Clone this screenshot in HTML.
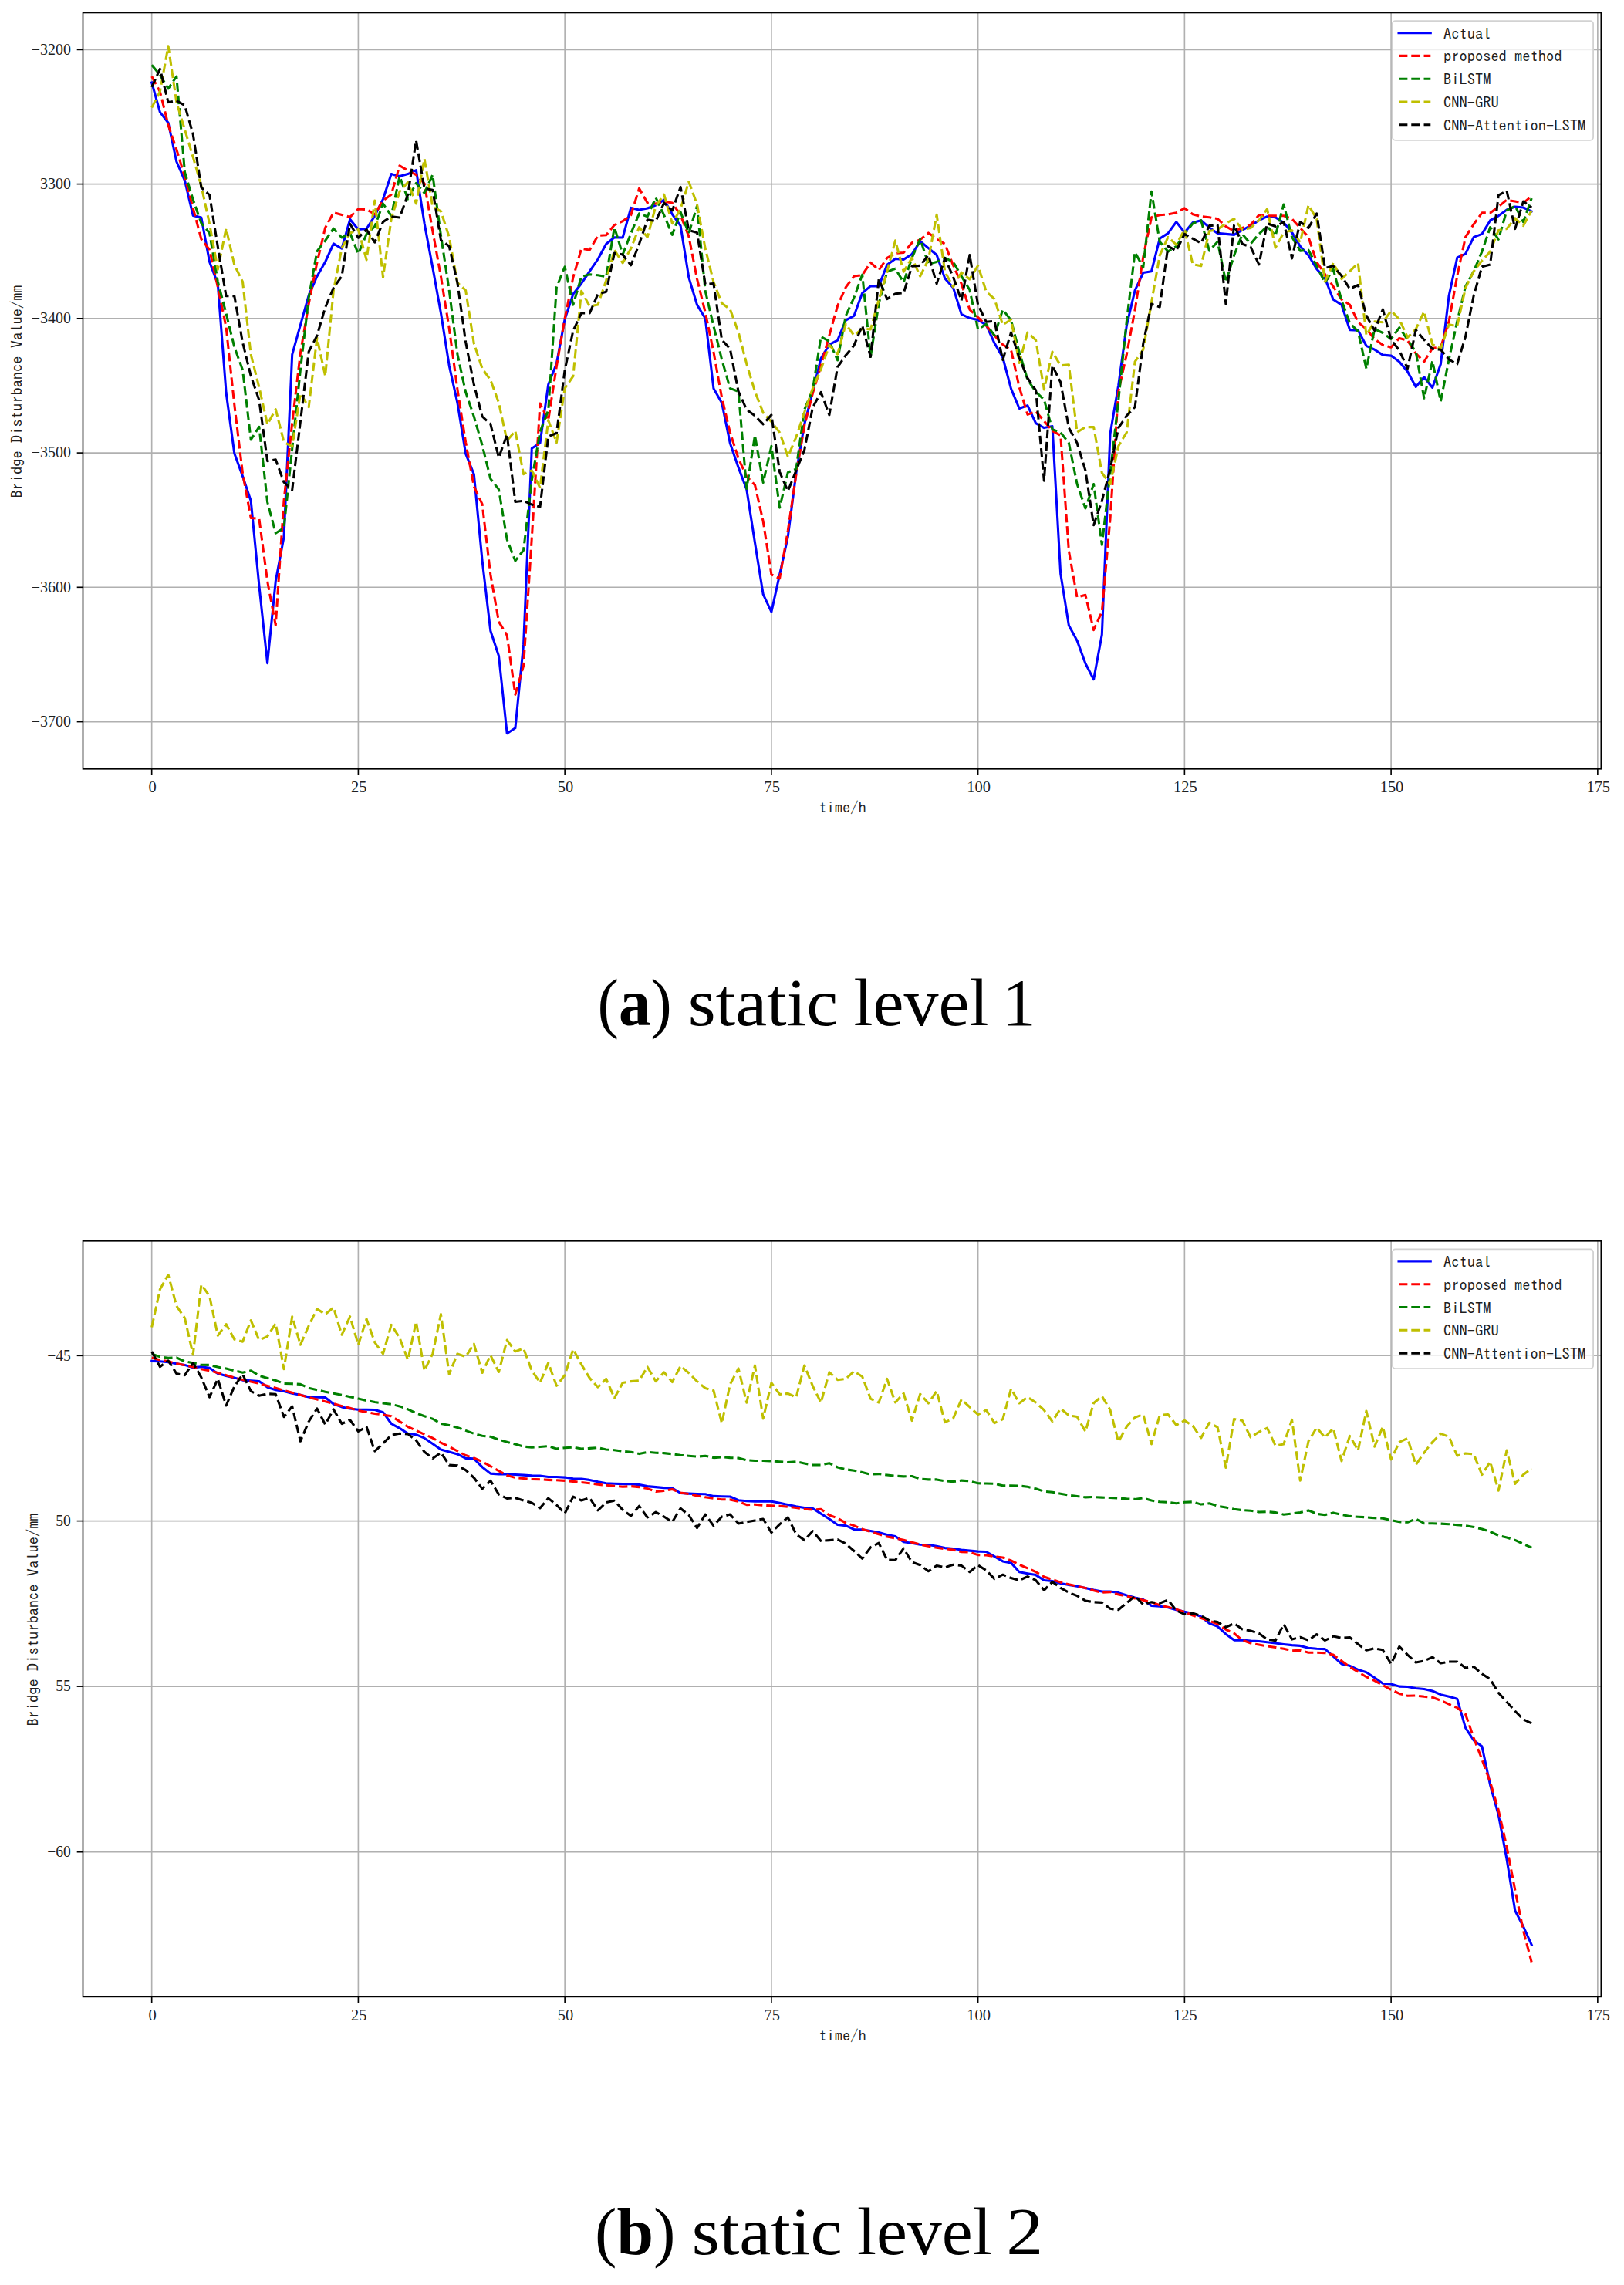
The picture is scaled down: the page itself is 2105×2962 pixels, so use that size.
<!DOCTYPE html>
<html><head><meta charset="utf-8"><title>Bridge Disturbance prediction</title>
<style>
html,body{margin:0;padding:0;background:#fff}
svg{display:block}
.t{font-family:"IPAGothic", "Liberation Mono", monospace;font-size:20.46px;fill:#1f1f1f}
.n{font-family:"Liberation Serif", serif;font-size:20.46px;fill:#1f1f1f}
.cap{font-family:"Liberation Serif", serif;fill:#000}
.ln{fill:none;stroke-width:3.07;stroke-linejoin:round}
.d{stroke-dasharray:11.36 4.91;stroke-linecap:butt}
.s{stroke-linecap:square}
.g{stroke:#b0b0b0;stroke-width:1.64}
.k{stroke:#000;stroke-width:1.64}
</style></head><body>
<svg width="2105" height="2962" viewBox="0 0 2105 2962">
<rect width="2105" height="2962" fill="#fff"/>

<g id="chart1">
<line class="g" x1="196.67" x2="196.67" y1="16.5" y2="996.8"/>
<line class="g" x1="464.41" x2="464.41" y1="16.5" y2="996.8"/>
<line class="g" x1="732.15" x2="732.15" y1="16.5" y2="996.8"/>
<line class="g" x1="999.89" x2="999.89" y1="16.5" y2="996.8"/>
<line class="g" x1="1267.63" x2="1267.63" y1="16.5" y2="996.8"/>
<line class="g" x1="1535.37" x2="1535.37" y1="16.5" y2="996.8"/>
<line class="g" x1="1803.11" x2="1803.11" y1="16.5" y2="996.8"/>
<line class="g" x1="2070.85" x2="2070.85" y1="16.5" y2="996.8"/>
<line class="g" x1="107.5" x2="2075.3" y1="64.4" y2="64.4"/>
<line class="g" x1="107.5" x2="2075.3" y1="238.6" y2="238.6"/>
<line class="g" x1="107.5" x2="2075.3" y1="412.8" y2="412.8"/>
<line class="g" x1="107.5" x2="2075.3" y1="587.1" y2="587.1"/>
<line class="g" x1="107.5" x2="2075.3" y1="761.3" y2="761.3"/>
<line class="g" x1="107.5" x2="2075.3" y1="935.6" y2="935.6"/>
<clipPath id="clip0"><rect x="107.5" y="16.5" width="1967.8000000000002" height="980.3"/></clipPath>
<g clip-path="url(#clip0)">
<polyline class="ln s" stroke="#0000ff" points="196.7,107.0 207.4,145.4 218.1,159.2 228.8,209.5 239.5,234.1 250.2,279.4 260.9,282.0 271.6,339.5 282.3,368.1 293.1,509.0 303.8,587.8 314.5,617.3 325.2,649.3 335.9,759.2 346.6,859.7 357.3,753.3 368.0,696.2 378.7,459.7 389.4,421.3 400.2,382.9 410.9,358.2 421.6,339.5 432.3,315.9 443.0,322.2 453.7,284.3 464.4,297.5 475.1,296.5 485.8,279.8 496.5,258.1 507.2,225.6 518.0,228.5 528.7,225.6 539.4,220.6 550.1,289.6 560.8,346.7 571.5,405.9 582.2,473.8 592.9,522.1 603.6,588.1 614.3,614.7 625.1,727.0 635.8,817.7 646.5,850.2 657.2,950.7 667.9,943.8 678.6,835.4 689.3,581.2 700.0,574.3 710.7,498.5 721.4,471.3 732.1,413.8 742.9,381.3 753.6,367.5 764.3,351.7 775.0,336.0 785.7,316.3 796.4,307.8 807.1,308.0 817.8,269.4 828.5,271.9 839.2,270.0 850.0,266.0 860.7,259.1 871.4,277.8 882.1,292.6 892.8,359.6 903.5,395.1 914.2,412.8 924.9,503.4 935.6,522.2 946.3,574.4 957.1,605.9 967.8,634.5 978.5,703.4 989.2,770.4 999.9,793.1 1010.6,744.8 1021.3,695.6 1032.0,612.8 1042.7,549.8 1053.4,507.8 1064.1,464.5 1074.9,446.7 1085.6,441.2 1096.3,415.2 1107.0,409.3 1117.7,379.8 1128.4,370.9 1139.1,370.9 1149.8,343.3 1160.5,335.4 1171.2,336.4 1182.0,329.5 1192.7,312.8 1203.4,321.6 1214.1,330.5 1224.8,361.0 1235.5,372.9 1246.2,407.3 1256.9,412.3 1267.6,414.8 1278.3,421.1 1289.0,444.8 1299.8,463.5 1310.5,503.9 1321.2,529.5 1331.9,525.6 1342.6,548.7 1353.3,554.6 1364.0,552.6 1374.7,743.7 1385.4,810.7 1396.1,830.4 1406.9,860.0 1417.6,880.7 1428.3,822.6 1439.0,562.5 1449.7,499.4 1460.4,421.6 1471.1,376.3 1481.8,353.6 1492.5,351.7 1503.2,309.3 1514.0,302.4 1524.7,287.6 1535.4,301.4 1546.1,288.6 1556.8,285.7 1567.5,294.9 1578.2,302.4 1588.9,303.4 1599.6,304.4 1610.3,298.1 1621.0,292.6 1631.8,285.7 1642.5,280.7 1653.2,281.7 1663.9,288.6 1674.6,301.4 1685.3,319.2 1696.0,331.0 1706.7,348.8 1717.4,360.6 1728.1,388.2 1738.9,395.1 1749.6,427.6 1760.3,428.2 1771.0,448.3 1781.7,453.2 1792.4,460.1 1803.1,461.1 1813.8,469.0 1824.5,481.8 1835.2,501.5 1845.9,488.7 1856.7,502.5 1867.4,471.9 1878.1,383.3 1888.8,334.0 1899.5,329.1 1910.2,307.4 1920.9,303.4 1931.6,285.7 1942.3,279.8 1953.0,271.9 1963.8,268.0 1974.5,269.0 1985.2,273.9"/>
<polyline class="ln d" stroke="#ff0000" points="196.7,99.1 207.4,118.8 218.1,162.2 228.8,193.7 239.5,229.2 250.2,269.6 260.9,310.0 271.6,323.7 282.3,372.0 293.1,424.2 303.8,524.7 314.5,613.4 325.2,671.5 335.9,672.5 346.6,753.3 357.3,810.4 368.0,648.9 378.7,548.4 389.4,457.7 400.2,393.7 410.9,340.5 421.6,295.2 432.3,275.5 443.0,278.4 453.7,281.4 464.4,270.9 475.1,271.5 485.8,277.8 496.5,260.0 507.2,252.2 518.0,214.7 528.7,221.0 539.4,226.6 550.1,238.0 560.8,299.5 571.5,358.6 582.2,425.6 592.9,504.4 603.6,573.3 614.3,630.5 625.1,653.7 635.8,744.8 646.5,805.9 657.2,823.6 667.9,900.4 678.6,863.0 689.3,697.5 700.0,523.1 710.7,544.8 721.4,474.8 732.1,412.8 742.9,359.6 753.6,322.2 764.3,324.1 775.0,305.4 785.7,304.8 796.4,291.6 807.1,286.7 817.8,278.8 828.5,244.3 839.2,263.1 850.0,264.0 860.7,261.1 871.4,263.1 882.1,278.8 892.8,306.4 903.5,361.6 914.2,404.9 924.9,456.2 935.6,515.3 946.3,560.6 957.1,594.1 967.8,617.7 978.5,628.6 989.2,675.9 999.9,744.8 1010.6,749.8 1021.3,687.7 1032.0,614.8 1042.7,551.7 1053.4,509.8 1064.1,474.3 1074.9,434.9 1085.6,396.5 1096.3,372.3 1107.0,358.1 1117.7,356.5 1128.4,340.3 1139.1,350.2 1149.8,334.4 1160.5,328.5 1171.2,327.5 1182.0,314.7 1192.7,310.8 1203.4,301.9 1214.1,309.8 1224.8,316.3 1235.5,343.9 1246.2,367.9 1256.9,401.4 1267.6,411.3 1278.3,422.1 1289.0,434.9 1299.8,446.7 1310.5,453.6 1321.2,501.9 1331.9,537.4 1342.6,533.4 1353.3,545.7 1364.0,558.5 1374.7,564.4 1385.4,714.2 1396.1,774.3 1406.9,771.3 1417.6,816.7 1428.3,793.0 1439.0,672.8 1449.7,507.3 1460.4,459.1 1471.1,401.9 1481.8,333.0 1492.5,281.7 1503.2,278.8 1514.0,277.8 1524.7,275.8 1535.4,269.9 1546.1,277.8 1556.8,280.7 1567.5,281.7 1578.2,283.7 1588.9,293.5 1599.6,299.5 1610.3,295.5 1621.0,291.6 1631.8,278.8 1642.5,279.8 1653.2,279.8 1663.9,279.8 1674.6,283.7 1685.3,295.5 1696.0,307.3 1706.7,339.9 1717.4,355.3 1728.1,371.4 1738.9,388.2 1749.6,395.1 1760.3,417.7 1771.0,426.6 1781.7,439.4 1792.4,447.3 1803.1,450.2 1813.8,438.4 1824.5,441.4 1835.2,458.1 1845.9,469.0 1856.7,451.2 1867.4,450.2 1878.1,416.7 1888.8,357.6 1899.5,307.4 1910.2,290.6 1920.9,275.9 1931.6,275.9 1942.3,268.0 1953.0,259.1 1963.8,261.1 1974.5,263.1 1985.2,254.2"/>
<polyline class="ln d" stroke="#008000" points="196.7,84.3 207.4,97.1 218.1,114.9 228.8,99.1 239.5,223.3 250.2,258.7 260.9,289.3 271.6,302.1 282.3,365.1 293.1,406.5 303.8,449.9 314.5,479.4 325.2,570.0 335.9,553.3 346.6,650.8 357.3,691.2 368.0,684.3 378.7,581.9 389.4,479.4 400.2,385.8 410.9,325.7 421.6,311.9 432.3,296.2 443.0,308.0 453.7,302.1 464.4,329.0 475.1,303.4 485.8,293.5 496.5,264.0 507.2,279.8 518.0,228.5 528.7,258.1 539.4,237.4 550.1,250.2 560.8,226.6 571.5,305.4 582.2,376.3 592.9,459.1 603.6,508.3 614.3,539.9 625.1,577.3 635.8,620.6 646.5,634.4 657.2,699.5 667.9,727.0 678.6,713.3 689.3,622.6 700.0,559.6 710.7,532.0 721.4,372.4 732.1,345.8 742.9,395.1 753.6,358.6 764.3,355.7 775.0,356.7 785.7,358.6 796.4,294.6 807.1,330.0 817.8,302.5 828.5,276.8 839.2,280.8 850.0,256.2 860.7,278.8 871.4,304.4 882.1,274.9 892.8,302.5 903.5,267.0 914.2,377.3 924.9,422.7 935.6,466.0 946.3,503.4 957.1,507.4 967.8,633.5 978.5,564.5 989.2,625.6 999.9,578.3 1010.6,658.1 1021.3,612.4 1032.0,607.9 1042.7,531.0 1053.4,505.4 1064.1,436.5 1074.9,442.4 1085.6,467.0 1096.3,409.3 1107.0,385.7 1117.7,356.1 1128.4,462.5 1139.1,393.5 1149.8,352.2 1160.5,348.2 1171.2,366.0 1182.0,334.4 1192.7,309.8 1203.4,342.3 1214.1,339.4 1224.8,334.4 1235.5,339.4 1246.2,358.1 1256.9,375.8 1267.6,427.0 1278.3,420.1 1289.0,434.9 1299.8,401.4 1310.5,415.2 1321.2,456.6 1331.9,492.1 1342.6,507.8 1353.3,518.1 1364.0,556.6 1374.7,560.5 1385.4,574.3 1396.1,627.5 1406.9,659.0 1417.6,627.5 1428.3,706.3 1439.0,613.7 1449.7,519.1 1460.4,415.7 1471.1,327.0 1481.8,346.7 1492.5,248.2 1503.2,313.3 1514.0,326.1 1524.7,319.2 1535.4,303.4 1546.1,289.6 1556.8,285.7 1567.5,325.1 1578.2,313.3 1588.9,365.5 1599.6,331.0 1610.3,303.4 1621.0,316.2 1631.8,303.4 1642.5,293.5 1653.2,305.4 1663.9,265.0 1674.6,307.3 1685.3,325.1 1696.0,324.1 1706.7,344.8 1717.4,366.5 1728.1,348.8 1738.9,389.2 1749.6,418.7 1760.3,429.6 1771.0,477.8 1781.7,426.6 1792.4,431.5 1803.1,439.4 1813.8,424.6 1824.5,440.4 1835.2,456.2 1845.9,516.3 1856.7,468.0 1867.4,520.2 1878.1,466.0 1888.8,416.7 1899.5,371.4 1910.2,351.7 1920.9,326.1 1931.6,294.6 1942.3,310.3 1953.0,272.9 1963.8,267.0 1974.5,287.7 1985.2,257.1"/>
<polyline class="ln d" stroke="#bfbf00" points="196.7,139.5 207.4,118.8 218.1,59.7 228.8,132.6 239.5,168.1 250.2,203.5 260.9,241.0 271.6,290.2 282.3,349.4 293.1,296.2 303.8,343.4 314.5,365.1 325.2,459.7 335.9,502.1 346.6,550.0 357.3,530.6 368.0,573.0 378.7,578.9 389.4,510.0 400.2,527.7 410.9,438.0 421.6,487.3 432.3,376.9 443.0,321.8 453.7,302.1 464.4,297.5 475.1,336.9 485.8,260.0 496.5,359.6 507.2,283.7 518.0,248.2 528.7,236.4 539.4,264.0 550.1,205.9 560.8,267.9 571.5,273.8 582.2,307.3 592.9,366.5 603.6,376.3 614.3,445.3 625.1,477.8 635.8,492.6 646.5,522.1 657.2,571.4 667.9,558.6 678.6,614.7 689.3,609.8 700.0,632.5 710.7,544.8 721.4,573.7 732.1,503.4 742.9,487.7 753.6,377.3 764.3,397.0 775.0,395.1 785.7,363.5 796.4,324.1 807.1,340.9 817.8,322.2 828.5,294.6 839.2,307.4 850.0,267.0 860.7,252.2 871.4,289.7 882.1,270.9 892.8,235.5 903.5,265.0 914.2,322.2 924.9,365.5 935.6,393.1 946.3,401.0 957.1,430.5 967.8,471.9 978.5,507.4 989.2,535.0 999.9,546.8 1010.6,560.6 1021.3,592.1 1032.0,566.5 1042.7,534.4 1053.4,503.4 1064.1,478.8 1074.9,447.3 1085.6,459.1 1096.3,420.1 1107.0,434.9 1117.7,426.1 1128.4,427.0 1139.1,388.6 1149.8,352.2 1160.5,311.8 1171.2,352.2 1182.0,334.4 1192.7,358.1 1203.4,336.4 1214.1,278.3 1224.8,352.2 1235.5,371.9 1246.2,353.2 1256.9,362.0 1267.6,344.3 1278.3,377.8 1289.0,387.6 1299.8,421.1 1310.5,414.2 1321.2,470.4 1331.9,431.0 1342.6,440.8 1353.3,504.9 1364.0,456.1 1374.7,473.8 1385.4,472.8 1396.1,560.5 1406.9,553.6 1417.6,553.6 1428.3,613.0 1439.0,627.5 1449.7,578.2 1460.4,560.5 1471.1,468.9 1481.8,453.2 1492.5,392.1 1503.2,331.0 1514.0,307.3 1524.7,317.2 1535.4,297.5 1546.1,342.8 1556.8,344.8 1567.5,299.5 1578.2,297.5 1588.9,289.6 1599.6,283.7 1610.3,297.5 1621.0,295.5 1631.8,285.7 1642.5,270.9 1653.2,321.1 1663.9,301.4 1674.6,298.5 1685.3,314.2 1696.0,266.0 1706.7,283.7 1717.4,365.1 1728.1,340.9 1738.9,361.6 1749.6,351.7 1760.3,340.9 1771.0,434.5 1781.7,416.7 1792.4,417.7 1803.1,403.0 1813.8,413.8 1824.5,437.4 1835.2,426.6 1845.9,403.9 1856.7,446.3 1867.4,452.2 1878.1,420.7 1888.8,422.7 1899.5,373.4 1910.2,351.7 1920.9,337.9 1931.6,326.1 1942.3,298.5 1953.0,296.6 1963.8,282.8 1974.5,292.6 1985.2,272.9"/>
<polyline class="ln d" stroke="#000000" points="196.7,112.9 207.4,89.3 218.1,132.6 228.8,130.6 239.5,136.6 250.2,174.0 260.9,243.0 271.6,252.8 282.3,319.8 293.1,383.8 303.8,383.8 314.5,443.9 325.2,487.3 335.9,518.8 346.6,597.6 357.3,595.7 368.0,625.2 378.7,635.1 389.4,546.4 400.2,455.8 410.9,435.1 421.6,398.6 432.3,373.0 443.0,358.2 453.7,290.2 464.4,308.3 475.1,297.5 485.8,314.2 496.5,287.6 507.2,280.7 518.0,282.1 528.7,252.2 539.4,182.2 550.1,244.3 560.8,246.3 571.5,311.3 582.2,319.2 592.9,366.5 603.6,443.3 614.3,498.5 625.1,539.9 635.8,549.7 646.5,593.1 657.2,563.5 667.9,650.6 678.6,649.2 689.3,654.1 700.0,657.1 710.7,565.9 721.4,561.5 732.1,479.8 742.9,428.6 753.6,405.9 764.3,405.9 775.0,381.3 785.7,378.3 796.4,328.1 807.1,330.0 817.8,343.8 828.5,316.3 839.2,284.7 850.0,286.7 860.7,263.1 871.4,272.9 882.1,242.4 892.8,298.5 903.5,301.5 914.2,368.5 924.9,367.5 935.6,440.4 946.3,452.2 957.1,507.4 967.8,531.0 978.5,538.9 989.2,549.8 999.9,537.9 1010.6,611.8 1021.3,636.5 1032.0,609.9 1042.7,583.3 1053.4,528.1 1064.1,508.4 1074.9,537.9 1085.6,475.9 1096.3,460.5 1107.0,447.7 1117.7,422.1 1128.4,462.5 1139.1,362.0 1149.8,387.6 1160.5,380.7 1171.2,379.8 1182.0,345.3 1192.7,344.3 1203.4,330.5 1214.1,367.9 1224.8,334.4 1235.5,359.1 1246.2,389.6 1256.9,330.5 1267.6,395.1 1278.3,417.2 1289.0,416.2 1299.8,466.5 1310.5,431.0 1321.2,464.1 1331.9,490.1 1342.6,505.9 1353.3,623.2 1364.0,473.8 1374.7,495.5 1385.4,554.6 1396.1,574.3 1406.9,609.8 1417.6,680.7 1428.3,649.2 1439.0,608.0 1449.7,554.6 1460.4,538.8 1471.1,527.6 1481.8,445.3 1492.5,394.0 1503.2,398.0 1514.0,319.2 1524.7,325.1 1535.4,303.4 1546.1,309.3 1556.8,315.2 1567.5,292.6 1578.2,291.6 1588.9,394.0 1599.6,291.6 1610.3,316.2 1621.0,320.1 1631.8,342.8 1642.5,289.6 1653.2,293.5 1663.9,287.6 1674.6,334.9 1685.3,287.6 1696.0,295.5 1706.7,276.8 1717.4,347.4 1728.1,344.8 1738.9,357.6 1749.6,374.4 1760.3,369.5 1771.0,408.9 1781.7,428.6 1792.4,401.0 1803.1,440.4 1813.8,454.2 1824.5,477.8 1835.2,427.6 1845.9,440.4 1856.7,452.2 1867.4,453.2 1878.1,466.0 1888.8,471.9 1899.5,436.5 1910.2,383.3 1920.9,345.8 1931.6,342.9 1942.3,253.2 1953.0,247.3 1963.8,296.6 1974.5,261.1 1985.2,269.0"/>
</g>
<line class="k" x1="196.67" x2="196.67" y1="996.8" y2="1004.60"/>
<g class="n"><text x="192.45" y="1026.90" textLength="10.23" lengthAdjust="spacingAndGlyphs" >0</text></g>
<line class="k" x1="464.41" x2="464.41" y1="996.8" y2="1004.60"/>
<g class="n"><text x="455.08" y="1026.90" textLength="20.46" lengthAdjust="spacingAndGlyphs" >25</text></g>
<line class="k" x1="732.15" x2="732.15" y1="996.8" y2="1004.60"/>
<g class="n"><text x="722.82" y="1026.90" textLength="20.46" lengthAdjust="spacingAndGlyphs" >50</text></g>
<line class="k" x1="999.89" x2="999.89" y1="996.8" y2="1004.60"/>
<g class="n"><text x="990.56" y="1026.90" textLength="20.46" lengthAdjust="spacingAndGlyphs" >75</text></g>
<line class="k" x1="1267.63" x2="1267.63" y1="996.8" y2="1004.60"/>
<g class="n"><text x="1253.19" y="1026.90" textLength="30.69" lengthAdjust="spacingAndGlyphs" >100</text></g>
<line class="k" x1="1535.37" x2="1535.37" y1="996.8" y2="1004.60"/>
<g class="n"><text x="1520.93" y="1026.90" textLength="30.69" lengthAdjust="spacingAndGlyphs" >125</text></g>
<line class="k" x1="1803.11" x2="1803.11" y1="996.8" y2="1004.60"/>
<g class="n"><text x="1788.67" y="1026.90" textLength="30.69" lengthAdjust="spacingAndGlyphs" >150</text></g>
<line class="k" x1="2070.85" x2="2070.85" y1="996.8" y2="1004.60"/>
<g class="n"><text x="2056.41" y="1026.90" textLength="30.69" lengthAdjust="spacingAndGlyphs" >175</text></g>
<line class="k" x1="99.70" x2="107.5" y1="64.4" y2="64.4"/>
<g class="n"><text x="40.75" y="70.60" textLength="51.15" lengthAdjust="spacingAndGlyphs" >−3200</text></g>
<line class="k" x1="99.70" x2="107.5" y1="238.6" y2="238.6"/>
<g class="n"><text x="40.75" y="244.80" textLength="51.15" lengthAdjust="spacingAndGlyphs" >−3300</text></g>
<line class="k" x1="99.70" x2="107.5" y1="412.8" y2="412.8"/>
<g class="n"><text x="40.75" y="419.00" textLength="51.15" lengthAdjust="spacingAndGlyphs" >−3400</text></g>
<line class="k" x1="99.70" x2="107.5" y1="587.1" y2="587.1"/>
<g class="n"><text x="40.75" y="593.30" textLength="51.15" lengthAdjust="spacingAndGlyphs" >−3500</text></g>
<line class="k" x1="99.70" x2="107.5" y1="761.3" y2="761.3"/>
<g class="n"><text x="40.75" y="767.50" textLength="51.15" lengthAdjust="spacingAndGlyphs" >−3600</text></g>
<line class="k" x1="99.70" x2="107.5" y1="935.6" y2="935.6"/>
<g class="n"><text x="40.75" y="941.80" textLength="51.15" lengthAdjust="spacingAndGlyphs" >−3700</text></g>
<rect x="107.5" y="16.5" width="1967.8000000000002" height="980.3" fill="none" stroke="#000" stroke-width="1.64"/>
<g class="t"><text x="1061.31" y="1053.90" textLength="61.38" lengthAdjust="spacingAndGlyphs" >time/h</text></g>
<g class="t" transform="translate(29.0,507.5) rotate(-90)"><text x="-138.11" y="0.00" textLength="276.21" lengthAdjust="spacingAndGlyphs" >Bridge Disturbance Value/mm</text></g>
<rect x="1804.8" y="27.1" width="260.3" height="154.7" rx="4" ry="4" fill="#fff" fill-opacity="0.8" stroke="#d2d2d2" stroke-width="1.8"/>
<line class="ln s" stroke="#0000ff" x1="1813" x2="1854.3" y1="42.6" y2="42.6"/>
<g class="t"><text x="1871.00" y="50.60" textLength="61.38" lengthAdjust="spacingAndGlyphs" >Actual</text></g>
<line class="ln d" stroke="#ff0000" x1="1813" x2="1854.3" y1="72.4" y2="72.4"/>
<g class="t"><text x="1871.00" y="80.40" textLength="153.45" lengthAdjust="spacingAndGlyphs" >proposed method</text></g>
<line class="ln d" stroke="#008000" x1="1813" x2="1854.3" y1="102.2" y2="102.2"/>
<g class="t"><text x="1871.00" y="110.20" textLength="61.38" lengthAdjust="spacingAndGlyphs" >BiLSTM</text></g>
<line class="ln d" stroke="#bfbf00" x1="1813" x2="1854.3" y1="132.0" y2="132.0"/>
<g class="t"><text x="1871.00" y="140.00" textLength="71.61" lengthAdjust="spacingAndGlyphs" >CNN-GRU</text></g>
<line class="ln d" stroke="#000000" x1="1813" x2="1854.3" y1="161.8" y2="161.8"/>
<g class="t"><text x="1871.00" y="169.80" textLength="184.14" lengthAdjust="spacingAndGlyphs" >CNN-Attention-LSTM</text></g>
</g>
<g id="chart2">
<line class="g" x1="196.67" x2="196.67" y1="1608.8" y2="2588.4"/>
<line class="g" x1="464.41" x2="464.41" y1="1608.8" y2="2588.4"/>
<line class="g" x1="732.15" x2="732.15" y1="1608.8" y2="2588.4"/>
<line class="g" x1="999.89" x2="999.89" y1="1608.8" y2="2588.4"/>
<line class="g" x1="1267.63" x2="1267.63" y1="1608.8" y2="2588.4"/>
<line class="g" x1="1535.37" x2="1535.37" y1="1608.8" y2="2588.4"/>
<line class="g" x1="1803.11" x2="1803.11" y1="1608.8" y2="2588.4"/>
<line class="g" x1="2070.85" x2="2070.85" y1="1608.8" y2="2588.4"/>
<line class="g" x1="107.5" x2="2075.3" y1="1757.3" y2="1757.3"/>
<line class="g" x1="107.5" x2="2075.3" y1="1971.6" y2="1971.6"/>
<line class="g" x1="107.5" x2="2075.3" y1="2186.1" y2="2186.1"/>
<line class="g" x1="107.5" x2="2075.3" y1="2400.7" y2="2400.7"/>
<clipPath id="clip1"><rect x="107.5" y="1608.8" width="1967.8000000000002" height="979.6000000000001"/></clipPath>
<g clip-path="url(#clip1)">
<polyline class="ln s" stroke="#0000ff" points="196.7,1764.4 207.4,1764.8 218.1,1765.8 228.8,1767.8 239.5,1769.4 250.2,1772.7 260.9,1771.7 271.6,1773.3 282.3,1780.6 293.1,1783.5 303.8,1785.9 314.5,1789.1 325.2,1789.9 335.9,1790.6 346.6,1798.3 357.3,1801.7 368.0,1803.6 378.7,1806.2 389.4,1808.2 400.2,1811.1 410.9,1811.1 421.6,1811.5 432.3,1820.0 443.0,1823.9 453.7,1825.9 464.4,1827.3 475.1,1827.3 485.8,1827.5 496.5,1830.7 507.2,1845.5 518.0,1851.4 528.7,1858.3 539.4,1859.7 550.1,1864.2 560.8,1871.5 571.5,1879.0 582.2,1882.0 592.9,1884.9 603.6,1890.4 614.3,1890.8 625.1,1901.7 635.8,1910.1 646.5,1910.9 657.2,1910.9 667.9,1911.5 678.6,1912.1 689.3,1912.9 700.0,1913.1 710.7,1914.5 721.4,1914.5 732.1,1915.1 742.9,1916.8 753.6,1917.0 764.3,1918.4 775.0,1920.8 785.7,1922.8 796.4,1923.3 807.1,1923.6 817.8,1923.8 828.5,1924.6 839.2,1926.6 850.0,1927.6 860.7,1928.6 871.4,1929.0 882.1,1935.5 892.8,1936.1 903.5,1936.5 914.2,1936.8 924.9,1939.4 935.6,1939.8 946.3,1940.0 957.1,1944.7 967.8,1945.7 978.5,1946.3 989.2,1946.3 999.9,1946.3 1010.6,1948.3 1021.3,1950.6 1032.0,1952.8 1042.7,1954.6 1053.4,1955.2 1064.1,1962.1 1074.9,1969.0 1085.6,1976.5 1096.3,1977.6 1107.0,1982.5 1117.7,1982.9 1128.4,1984.5 1139.1,1986.5 1149.8,1989.4 1160.5,1991.4 1171.2,1998.7 1182.0,2000.2 1192.7,2002.2 1203.4,2002.6 1214.1,2004.2 1224.8,2006.6 1235.5,2007.5 1246.2,2009.1 1256.9,2010.1 1267.6,2011.1 1278.3,2011.5 1289.0,2017.6 1299.8,2023.9 1310.5,2025.9 1321.2,2037.7 1331.9,2039.7 1342.6,2041.6 1353.3,2048.5 1364.0,2049.5 1374.7,2052.5 1385.4,2054.4 1396.1,2056.2 1406.9,2058.5 1417.6,2061.1 1428.3,2063.1 1439.0,2063.1 1449.7,2064.6 1460.4,2068.0 1471.1,2070.9 1481.8,2073.5 1492.5,2081.4 1503.2,2082.2 1514.0,2083.7 1524.7,2086.7 1535.4,2089.3 1546.1,2091.6 1556.8,2095.6 1567.5,2104.4 1578.2,2108.4 1588.9,2118.2 1599.6,2126.1 1610.3,2126.1 1621.0,2127.1 1631.8,2127.5 1642.5,2128.7 1653.2,2130.0 1663.9,2131.4 1674.6,2132.6 1685.3,2133.4 1696.0,2136.3 1706.7,2137.2 1717.4,2137.6 1728.1,2147.1 1738.9,2156.9 1749.6,2159.3 1760.3,2164.4 1771.0,2167.8 1781.7,2174.7 1792.4,2182.2 1803.1,2183.0 1813.8,2186.1 1824.5,2186.5 1835.2,2188.5 1845.9,2189.5 1856.7,2192.0 1867.4,2196.7 1878.1,2199.3 1888.8,2202.3 1899.5,2239.6 1910.2,2256.0 1920.9,2263.7 1931.6,2314.0 1942.3,2352.5 1953.0,2409.9 1963.8,2476.7 1974.5,2497.4 1985.2,2521.0"/>
<polyline class="ln d" stroke="#ff0000" points="196.7,1759.9 207.4,1762.9 218.1,1764.8 228.8,1767.4 239.5,1769.8 250.2,1772.1 260.9,1774.7 271.6,1776.7 282.3,1779.6 293.1,1782.6 303.8,1785.9 314.5,1788.5 325.2,1791.0 335.9,1793.4 346.6,1796.4 357.3,1799.3 368.0,1802.3 378.7,1805.2 389.4,1808.2 400.2,1811.5 410.9,1814.1 421.6,1816.7 432.3,1819.4 443.0,1822.6 453.7,1825.3 464.4,1828.5 475.1,1830.4 485.8,1832.4 496.5,1834.1 507.2,1835.7 518.0,1842.6 528.7,1849.5 539.4,1854.4 550.1,1859.3 560.8,1864.2 571.5,1870.1 582.2,1875.1 592.9,1881.0 603.6,1886.5 614.3,1889.9 625.1,1894.8 635.8,1900.7 646.5,1906.6 657.2,1912.5 667.9,1915.5 678.6,1916.5 689.3,1917.4 700.0,1917.8 710.7,1918.4 721.4,1918.8 732.1,1919.4 742.9,1920.4 753.6,1921.4 764.3,1922.8 775.0,1924.3 785.7,1925.3 796.4,1926.2 807.1,1927.2 817.8,1926.6 828.5,1927.6 839.2,1929.6 850.0,1933.5 860.7,1932.5 871.4,1930.5 882.1,1935.1 892.8,1936.5 903.5,1939.0 914.2,1940.8 924.9,1942.4 935.6,1943.7 946.3,1943.9 957.1,1946.3 967.8,1950.6 978.5,1950.2 989.2,1951.2 999.9,1951.8 1010.6,1952.2 1021.3,1953.2 1032.0,1954.6 1042.7,1956.2 1053.4,1957.1 1064.1,1956.2 1074.9,1964.0 1085.6,1968.0 1096.3,1974.2 1107.0,1977.6 1117.7,1982.1 1128.4,1985.5 1139.1,1988.8 1149.8,1992.0 1160.5,1993.9 1171.2,1996.3 1182.0,1999.3 1192.7,2002.2 1203.4,2004.2 1214.1,2006.2 1224.8,2007.7 1235.5,2009.1 1246.2,2011.7 1256.9,2012.1 1267.6,2015.6 1278.3,2016.0 1289.0,2017.6 1299.8,2019.0 1310.5,2022.9 1321.2,2028.2 1331.9,2032.8 1342.6,2037.7 1353.3,2044.0 1364.0,2047.5 1374.7,2051.1 1385.4,2053.8 1396.1,2056.2 1406.9,2058.5 1417.6,2061.7 1428.3,2064.4 1439.0,2063.6 1449.7,2067.0 1460.4,2069.0 1471.1,2071.9 1481.8,2074.3 1492.5,2076.8 1503.2,2080.8 1514.0,2083.3 1524.7,2086.1 1535.4,2089.7 1546.1,2094.0 1556.8,2097.5 1567.5,2101.1 1578.2,2105.0 1588.9,2112.3 1599.6,2117.2 1610.3,2126.1 1621.0,2130.0 1631.8,2132.0 1642.5,2134.0 1653.2,2135.4 1663.9,2137.3 1674.6,2139.9 1685.3,2139.3 1696.0,2142.2 1706.7,2142.2 1717.4,2142.8 1728.1,2145.1 1738.9,2153.0 1749.6,2160.9 1760.3,2167.2 1771.0,2173.7 1781.7,2178.6 1792.4,2184.5 1803.1,2190.4 1813.8,2195.4 1824.5,2198.3 1835.2,2197.9 1845.9,2199.3 1856.7,2200.3 1867.4,2204.2 1878.1,2209.2 1888.8,2213.7 1899.5,2221.9 1910.2,2252.8 1920.9,2280.7 1931.6,2310.2 1942.3,2346.5 1953.0,2393.9 1963.8,2450.0 1974.5,2502.7 1985.2,2543.5"/>
<polyline class="ln d" stroke="#008000" points="196.7,1755.0 207.4,1758.9 218.1,1760.3 228.8,1759.9 239.5,1764.8 250.2,1766.8 260.9,1769.2 271.6,1769.4 282.3,1772.1 293.1,1774.1 303.8,1776.7 314.5,1779.2 325.2,1776.7 335.9,1783.2 346.6,1786.5 357.3,1789.5 368.0,1793.4 378.7,1793.8 389.4,1794.4 400.2,1799.3 410.9,1801.7 421.6,1804.2 432.3,1806.2 443.0,1808.2 453.7,1810.7 464.4,1813.1 475.1,1815.5 485.8,1817.6 496.5,1818.9 507.2,1820.3 518.0,1822.9 528.7,1826.8 539.4,1831.7 550.1,1835.7 560.8,1839.2 571.5,1845.5 582.2,1847.5 592.9,1850.4 603.6,1854.4 614.3,1858.3 625.1,1861.3 635.8,1862.3 646.5,1866.2 657.2,1869.2 667.9,1872.1 678.6,1875.1 689.3,1876.1 700.0,1875.5 710.7,1874.7 721.4,1878.0 732.1,1876.7 742.9,1876.1 753.6,1878.0 764.3,1877.4 775.0,1876.7 785.7,1879.0 796.4,1879.7 807.1,1881.3 817.8,1882.3 828.5,1884.6 839.2,1882.3 850.0,1883.3 860.7,1883.6 871.4,1884.8 882.1,1886.2 892.8,1887.2 903.5,1888.2 914.2,1887.2 924.9,1889.6 935.6,1888.8 946.3,1889.6 957.1,1890.1 967.8,1892.7 978.5,1893.5 989.2,1893.5 999.9,1894.1 1010.6,1894.7 1021.3,1895.5 1032.0,1894.7 1042.7,1897.0 1053.4,1899.0 1064.1,1899.0 1074.9,1896.7 1085.6,1902.0 1096.3,1904.7 1107.0,1906.3 1117.7,1908.6 1128.4,1911.2 1139.1,1910.6 1149.8,1912.0 1160.5,1913.2 1171.2,1913.9 1182.0,1913.5 1192.7,1917.1 1203.4,1917.9 1214.1,1917.9 1224.8,1919.9 1235.5,1920.6 1246.2,1919.1 1256.9,1919.9 1267.6,1922.8 1278.3,1923.0 1289.0,1923.4 1299.8,1925.8 1310.5,1925.8 1321.2,1926.0 1331.9,1927.3 1342.6,1929.7 1353.3,1933.3 1364.0,1934.2 1374.7,1936.2 1385.4,1938.2 1396.1,1939.5 1406.9,1940.9 1417.6,1940.5 1428.3,1941.1 1439.0,1941.5 1449.7,1942.1 1460.4,1942.9 1471.1,1943.4 1481.8,1941.9 1492.5,1945.0 1503.2,1946.8 1514.0,1947.4 1524.7,1948.8 1535.4,1947.2 1546.1,1946.8 1556.8,1950.1 1567.5,1948.8 1578.2,1952.1 1588.9,1954.1 1599.6,1956.3 1610.3,1957.6 1621.0,1958.2 1631.8,1960.0 1642.5,1959.6 1653.2,1960.6 1663.9,1963.2 1674.6,1962.0 1685.3,1960.6 1696.0,1957.9 1706.7,1962.3 1717.4,1963.8 1728.1,1960.9 1738.9,1963.4 1749.6,1965.4 1760.3,1966.2 1771.0,1966.8 1781.7,1967.8 1792.4,1968.2 1803.1,1970.7 1813.8,1972.7 1824.5,1973.3 1835.2,1968.8 1845.9,1974.7 1856.7,1974.7 1867.4,1975.1 1878.1,1975.7 1888.8,1976.7 1899.5,1977.6 1910.2,1979.6 1920.9,1982.0 1931.6,1985.5 1942.3,1990.4 1953.0,1993.0 1963.8,1996.4 1974.5,2001.3 1985.2,2006.2"/>
<polyline class="ln d" stroke="#bfbf00" points="196.7,1720.5 207.4,1671.2 218.1,1652.5 228.8,1692.9 239.5,1708.7 250.2,1756.0 260.9,1665.3 271.6,1680.1 282.3,1731.3 293.1,1716.6 303.8,1736.3 314.5,1739.2 325.2,1711.6 335.9,1737.2 346.6,1732.3 357.3,1715.6 368.0,1774.7 378.7,1706.7 389.4,1743.2 400.2,1718.5 410.9,1696.8 421.6,1703.7 432.3,1694.9 443.0,1730.3 453.7,1706.7 464.4,1743.2 475.1,1709.7 485.8,1740.2 496.5,1754.9 507.2,1717.4 518.0,1734.2 528.7,1762.8 539.4,1713.5 550.1,1776.6 560.8,1754.9 571.5,1703.6 582.2,1781.5 592.9,1754.9 603.6,1758.8 614.3,1742.1 625.1,1779.5 635.8,1756.8 646.5,1778.5 657.2,1737.1 667.9,1751.9 678.6,1748.0 689.3,1776.6 700.0,1792.3 710.7,1766.7 721.4,1796.3 732.1,1782.5 742.9,1749.0 753.6,1768.7 764.3,1786.4 775.0,1798.2 785.7,1787.4 796.4,1812.3 807.1,1792.6 817.8,1790.6 828.5,1789.7 839.2,1771.9 850.0,1790.6 860.7,1778.8 871.4,1791.6 882.1,1770.9 892.8,1779.8 903.5,1790.6 914.2,1799.5 924.9,1802.5 935.6,1844.8 946.3,1794.6 957.1,1773.9 967.8,1818.2 978.5,1770.0 989.2,1838.9 999.9,1792.6 1010.6,1807.4 1021.3,1806.4 1032.0,1811.3 1042.7,1770.0 1053.4,1796.6 1064.1,1818.2 1074.9,1778.8 1085.6,1788.7 1096.3,1787.4 1107.0,1777.6 1117.7,1784.5 1128.4,1813.1 1139.1,1818.0 1149.8,1787.4 1160.5,1818.0 1171.2,1806.2 1182.0,1841.6 1192.7,1807.1 1203.4,1819.0 1214.1,1803.2 1224.8,1843.6 1235.5,1838.7 1246.2,1814.0 1256.9,1823.9 1267.6,1833.7 1278.3,1827.8 1289.0,1844.6 1299.8,1839.7 1310.5,1800.2 1321.2,1819.0 1331.9,1811.1 1342.6,1818.0 1353.3,1827.8 1364.0,1842.6 1374.7,1825.9 1385.4,1834.7 1396.1,1836.5 1406.9,1855.6 1417.6,1818.7 1428.3,1809.9 1439.0,1827.6 1449.7,1869.0 1460.4,1849.3 1471.1,1837.4 1481.8,1833.5 1492.5,1871.9 1503.2,1834.5 1514.0,1833.5 1524.7,1847.3 1535.4,1841.4 1546.1,1848.3 1556.8,1864.0 1567.5,1844.3 1578.2,1850.2 1588.9,1902.5 1599.6,1839.4 1610.3,1841.4 1621.0,1863.1 1631.8,1856.2 1642.5,1851.2 1653.2,1873.9 1663.9,1871.9 1674.6,1840.4 1685.3,1919.2 1696.0,1868.3 1706.7,1850.5 1717.4,1863.3 1728.1,1851.5 1738.9,1893.9 1749.6,1861.4 1760.3,1880.1 1771.0,1828.9 1781.7,1875.2 1792.4,1849.6 1803.1,1891.9 1813.8,1869.3 1824.5,1864.3 1835.2,1898.8 1845.9,1883.1 1856.7,1869.3 1867.4,1858.4 1878.1,1862.4 1888.8,1887.0 1899.5,1884.0 1910.2,1885.0 1920.9,1911.6 1931.6,1894.9 1942.3,1932.3 1953.0,1880.1 1963.8,1923.4 1974.5,1911.6 1985.2,1903.7"/>
<polyline class="ln d" stroke="#000000" points="196.7,1752.0 207.4,1771.7 218.1,1763.8 228.8,1780.6 239.5,1782.6 250.2,1766.8 260.9,1785.5 271.6,1811.1 282.3,1787.5 293.1,1822.0 303.8,1797.3 314.5,1781.6 325.2,1803.3 335.9,1809.2 346.6,1806.8 357.3,1807.2 368.0,1836.7 378.7,1823.0 389.4,1868.3 400.2,1842.7 410.9,1825.9 421.6,1846.6 432.3,1826.9 443.0,1845.6 453.7,1840.7 464.4,1855.5 475.1,1849.6 485.8,1881.1 496.5,1871.1 507.2,1860.3 518.0,1858.3 528.7,1858.9 539.4,1867.2 550.1,1882.0 560.8,1890.4 571.5,1883.0 582.2,1899.1 592.9,1899.7 603.6,1905.6 614.3,1915.5 625.1,1929.9 635.8,1919.4 646.5,1937.1 657.2,1942.5 667.9,1941.7 678.6,1945.0 689.3,1948.0 700.0,1954.9 710.7,1942.1 721.4,1950.9 732.1,1961.8 742.9,1940.1 753.6,1945.0 764.3,1941.7 775.0,1957.8 785.7,1947.6 796.4,1945.3 807.1,1957.1 817.8,1965.0 828.5,1952.2 839.2,1967.0 850.0,1960.1 860.7,1966.0 871.4,1972.9 882.1,1955.2 892.8,1964.0 903.5,1980.8 914.2,1963.1 924.9,1977.8 935.6,1966.0 946.3,1963.1 957.1,1974.9 967.8,1972.9 978.5,1970.9 989.2,1969.0 999.9,1986.7 1010.6,1975.9 1021.3,1967.0 1032.0,1988.7 1042.7,1996.6 1053.4,1984.7 1064.1,1997.5 1074.9,1996.6 1085.6,1995.6 1096.3,2001.0 1107.0,2010.5 1117.7,2020.3 1128.4,2005.8 1139.1,2000.2 1149.8,2021.9 1160.5,2022.3 1171.2,2007.1 1182.0,2024.9 1192.7,2028.8 1203.4,2036.7 1214.1,2029.4 1224.8,2031.8 1235.5,2028.2 1246.2,2029.4 1256.9,2037.7 1267.6,2028.8 1278.3,2035.7 1289.0,2046.6 1299.8,2041.2 1310.5,2045.6 1321.2,2048.5 1331.9,2043.6 1342.6,2048.5 1353.3,2061.3 1364.0,2050.5 1374.7,2058.4 1385.4,2064.3 1396.1,2068.6 1406.9,2074.9 1417.6,2076.8 1428.3,2077.4 1439.0,2085.3 1449.7,2086.7 1460.4,2077.8 1471.1,2069.0 1481.8,2079.8 1492.5,2076.8 1503.2,2078.2 1514.0,2073.9 1524.7,2087.7 1535.4,2092.6 1546.1,2091.2 1556.8,2094.6 1567.5,2100.5 1578.2,2102.5 1588.9,2109.4 1599.6,2104.4 1610.3,2111.9 1621.0,2113.9 1631.8,2117.2 1642.5,2125.1 1653.2,2126.7 1663.9,2105.4 1674.6,2125.1 1685.3,2122.2 1696.0,2126.4 1706.7,2118.5 1717.4,2126.4 1728.1,2121.1 1738.9,2123.4 1749.6,2122.5 1760.3,2131.3 1771.0,2139.2 1781.7,2136.8 1792.4,2138.8 1803.1,2156.9 1813.8,2134.3 1824.5,2145.1 1835.2,2155.0 1845.9,2153.0 1856.7,2148.1 1867.4,2156.0 1878.1,2154.0 1888.8,2154.0 1899.5,2161.9 1910.2,2160.5 1920.9,2169.8 1931.6,2176.7 1942.3,2194.4 1953.0,2206.2 1963.8,2218.0 1974.5,2228.9 1985.2,2233.8"/>
</g>
<line class="k" x1="196.67" x2="196.67" y1="2588.4" y2="2596.20"/>
<g class="n"><text x="192.45" y="2618.50" textLength="10.23" lengthAdjust="spacingAndGlyphs" >0</text></g>
<line class="k" x1="464.41" x2="464.41" y1="2588.4" y2="2596.20"/>
<g class="n"><text x="455.08" y="2618.50" textLength="20.46" lengthAdjust="spacingAndGlyphs" >25</text></g>
<line class="k" x1="732.15" x2="732.15" y1="2588.4" y2="2596.20"/>
<g class="n"><text x="722.82" y="2618.50" textLength="20.46" lengthAdjust="spacingAndGlyphs" >50</text></g>
<line class="k" x1="999.89" x2="999.89" y1="2588.4" y2="2596.20"/>
<g class="n"><text x="990.56" y="2618.50" textLength="20.46" lengthAdjust="spacingAndGlyphs" >75</text></g>
<line class="k" x1="1267.63" x2="1267.63" y1="2588.4" y2="2596.20"/>
<g class="n"><text x="1253.19" y="2618.50" textLength="30.69" lengthAdjust="spacingAndGlyphs" >100</text></g>
<line class="k" x1="1535.37" x2="1535.37" y1="2588.4" y2="2596.20"/>
<g class="n"><text x="1520.93" y="2618.50" textLength="30.69" lengthAdjust="spacingAndGlyphs" >125</text></g>
<line class="k" x1="1803.11" x2="1803.11" y1="2588.4" y2="2596.20"/>
<g class="n"><text x="1788.67" y="2618.50" textLength="30.69" lengthAdjust="spacingAndGlyphs" >150</text></g>
<line class="k" x1="2070.85" x2="2070.85" y1="2588.4" y2="2596.20"/>
<g class="n"><text x="2056.41" y="2618.50" textLength="30.69" lengthAdjust="spacingAndGlyphs" >175</text></g>
<line class="k" x1="99.70" x2="107.5" y1="1757.3" y2="1757.3"/>
<g class="n"><text x="61.21" y="1763.50" textLength="30.69" lengthAdjust="spacingAndGlyphs" >−45</text></g>
<line class="k" x1="99.70" x2="107.5" y1="1971.6" y2="1971.6"/>
<g class="n"><text x="61.21" y="1977.80" textLength="30.69" lengthAdjust="spacingAndGlyphs" >−50</text></g>
<line class="k" x1="99.70" x2="107.5" y1="2186.1" y2="2186.1"/>
<g class="n"><text x="61.21" y="2192.30" textLength="30.69" lengthAdjust="spacingAndGlyphs" >−55</text></g>
<line class="k" x1="99.70" x2="107.5" y1="2400.7" y2="2400.7"/>
<g class="n"><text x="61.21" y="2406.90" textLength="30.69" lengthAdjust="spacingAndGlyphs" >−60</text></g>
<rect x="107.5" y="1608.8" width="1967.8000000000002" height="979.6000000000001" fill="none" stroke="#000" stroke-width="1.64"/>
<g class="t"><text x="1061.31" y="2645.50" textLength="61.38" lengthAdjust="spacingAndGlyphs" >time/h</text></g>
<g class="t" transform="translate(49.7,2099.5) rotate(-90)"><text x="-138.11" y="0.00" textLength="276.21" lengthAdjust="spacingAndGlyphs" >Bridge Disturbance Value/mm</text></g>
<rect x="1804.8" y="1619.4" width="260.3" height="154.7" rx="4" ry="4" fill="#fff" fill-opacity="0.8" stroke="#d2d2d2" stroke-width="1.8"/>
<line class="ln s" stroke="#0000ff" x1="1813" x2="1854.3" y1="1634.9" y2="1634.9"/>
<g class="t"><text x="1871.00" y="1642.90" textLength="61.38" lengthAdjust="spacingAndGlyphs" >Actual</text></g>
<line class="ln d" stroke="#ff0000" x1="1813" x2="1854.3" y1="1664.7" y2="1664.7"/>
<g class="t"><text x="1871.00" y="1672.70" textLength="153.45" lengthAdjust="spacingAndGlyphs" >proposed method</text></g>
<line class="ln d" stroke="#008000" x1="1813" x2="1854.3" y1="1694.5" y2="1694.5"/>
<g class="t"><text x="1871.00" y="1702.50" textLength="61.38" lengthAdjust="spacingAndGlyphs" >BiLSTM</text></g>
<line class="ln d" stroke="#bfbf00" x1="1813" x2="1854.3" y1="1724.3" y2="1724.3"/>
<g class="t"><text x="1871.00" y="1732.30" textLength="71.61" lengthAdjust="spacingAndGlyphs" >CNN-GRU</text></g>
<line class="ln d" stroke="#000000" x1="1813" x2="1854.3" y1="1754.1" y2="1754.1"/>
<g class="t"><text x="1871.00" y="1762.10" textLength="184.14" lengthAdjust="spacingAndGlyphs" >CNN-Attention-LSTM</text></g>
</g>
<text class="cap" y="1329.4" font-size="87"><tspan x="774.5" textLength="96.2" lengthAdjust="spacingAndGlyphs">(<tspan font-weight="bold">a</tspan>)</tspan> <tspan x="891.7" textLength="194.5" lengthAdjust="spacingAndGlyphs">static</tspan> <tspan x="1106.5" textLength="174.9" lengthAdjust="spacingAndGlyphs">level</tspan> <tspan x="1299.5" textLength="42.9" lengthAdjust="spacingAndGlyphs">1</tspan></text>
<text class="cap" y="2921.8" font-size="87"><tspan x="771.0" textLength="104.5" lengthAdjust="spacingAndGlyphs">(<tspan font-weight="bold">b</tspan>)</tspan> <tspan x="896.8" textLength="194.7" lengthAdjust="spacingAndGlyphs">static</tspan> <tspan x="1110.9" textLength="174.9" lengthAdjust="spacingAndGlyphs">level</tspan> <tspan x="1304.2" textLength="48.0" lengthAdjust="spacingAndGlyphs">2</tspan></text>
</svg></body></html>
